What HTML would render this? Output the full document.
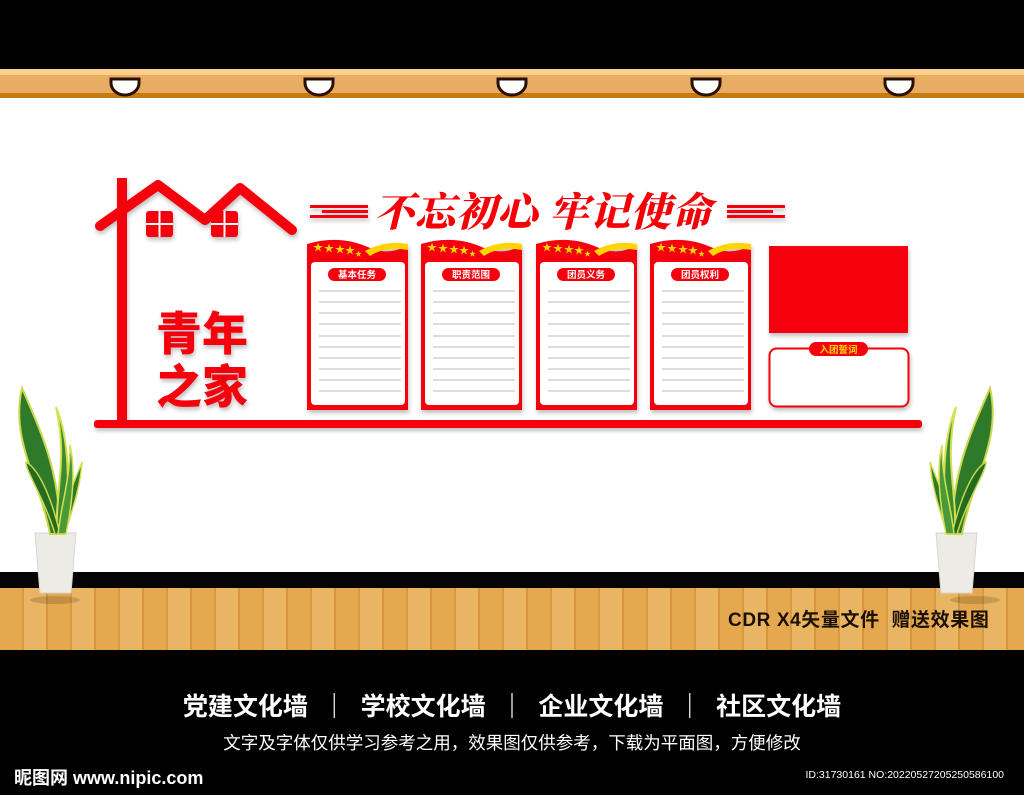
<!DOCTYPE html>
<html><head><meta charset="utf-8"><style>
html,body{margin:0;padding:0;width:1024px;height:795px;overflow:hidden;background:#000;font-family:"Liberation Sans","Noto Sans CJK SC",sans-serif}
.a{position:absolute}
</style></head><body>
<div class="a" style="left:0;top:0;width:1024px;height:795px;background:#000"></div>
<div class="a" style="left:0;top:98px;width:1024px;height:474px;background:#fff"></div>
<div class="a" style="left:0;top:69px;width:1024px;height:29px;background:#e8ad63"></div>
<div class="a" style="left:0;top:69px;width:1024px;height:6px;background:#fcd08c"></div>
<div class="a" style="left:0;top:93px;width:1024px;height:5px;background:#c87a12"></div>
<svg class="a" style="left:0;top:0" width="1024" height="795">
<g fill="#fff" stroke="#2a0e00" stroke-width="3">
<path d="M111,79 h28 v4 a14,12 0 0 1 -28,0z"/>
<path d="M305,79 h28 v4 a14,12 0 0 1 -28,0z"/>
<path d="M498,79 h28 v4 a14,12 0 0 1 -28,0z"/>
<path d="M692,79 h28 v4 a14,12 0 0 1 -28,0z"/>
<path d="M885,79 h28 v4 a14,12 0 0 1 -28,0z"/>
</g>
</svg>
<div class="a" style="left:0;top:572px;width:1024px;height:16px;background:#050505"></div>
<div class="a" style="left:0;top:588px;width:1024px;height:62px;background:repeating-linear-gradient(90deg,#e5a84e 0 22px,#d89a40 22px 24px,#eab562 24px 46px,#d6953a 46px 48px)"></div>
<div class="a" style="left:728px;top:605px;font-size:19px;font-weight:bold;color:#1a1006;letter-spacing:0.6px">CDR X4矢量文件&nbsp; 赠送效果图</div>

<svg class="a" style="left:0;top:0" width="1024" height="795">
<defs><filter id="sh"><feDropShadow dx="1" dy="3" stdDeviation="2" flood-opacity="0.25"/></filter></defs>
<g filter="url(#sh)">
<path d="M100,226 L158,185 L205,220 L240,188 L292,230" fill="none" stroke="#f50007" stroke-width="10" stroke-linecap="round" stroke-linejoin="round"/>
<rect x="117" y="178" width="10" height="247" fill="#f50007"/>
<rect x="94" y="420" width="828" height="8" rx="3" fill="#f50007"/>
<g fill="#f50007">
<rect x="146" y="211" width="27" height="26" rx="3"/><rect x="211" y="211" width="27" height="26" rx="3"/>
</g>
<g stroke="#fff" stroke-width="2"><path d="M159.5,211v26M146,224h27M224.5,211v26M211,224h27"/></g>
<g fill="#f50007">
<rect x="310" y="205" width="58" height="3"/><rect x="322" y="210" width="46" height="3"/><rect x="310" y="215" width="58" height="3"/>
<rect x="727" y="205" width="58" height="3"/><rect x="727" y="210" width="46" height="3"/><rect x="727" y="215" width="58" height="3"/>
</g>
<g id="p">
<path d="M307,244 Q340,234 370,248 Q390,256 408,245 L408,410 L307,410z" fill="#f50007"/>
<path d="M365,251 Q385,240 408,244 L408,250 Q385,246 370,256z" fill="#ffd400"/>
<rect x="311" y="262" width="94" height="143" rx="4" fill="#fff"/>
<rect x="328" y="268" width="58" height="13" rx="6.5" fill="#f50007"/>
<g stroke="#bbb" stroke-width="1"><path d="M319,291h82M319,302h82M319,313h82M319,324h82M319,336h82M319,347h82M319,358h82M319,369h82M319,380h82M319,391h82"/></g>
<g fill="#ffd400" font-size="10"><text x="313" y="251">★</text><text x="324" y="252">★</text><text x="335" y="253">★</text><text x="345" y="254">★</text><text x="355" y="256" font-size="7">★</text></g>
</g>
<use href="#p" x="114"/><use href="#p" x="229"/><use href="#p" x="343"/>
<rect x="769" y="246" width="139" height="87" fill="#f50007"/>
<rect x="769.5" y="348.5" width="139" height="58" rx="7" fill="#fff" stroke="#f50007" stroke-width="2"/>
<rect x="809" y="342" width="59" height="14" rx="7" fill="#f50007"/>
</g>
<g font-size="9.5" font-weight="bold" fill="#fff" text-anchor="middle" font-family="Liberation Sans,Noto Sans CJK SC,sans-serif">
<text x="357" y="278">基本任务</text><text x="471" y="278">职责范围</text><text x="586" y="278">团员义务</text><text x="700" y="278">团员权利</text>
<text x="838.5" y="353" fill="#ffe000">入团誓词</text>
</g>
<g font-family="Noto Serif CJK SC,serif" font-weight="900" fill="#f50007" font-style="italic">
<text x="374" y="226" font-size="40" letter-spacing="1">不忘初心 牢记使命</text>
</g>
<g font-family="Noto Sans CJK SC,sans-serif" font-weight="900" fill="#f50007" font-size="46" filter="url(#sh)">
<text x="156" y="350">青年</text><text x="156" y="403">之家</text>
</g>
<g id="pl">
<path d="M35,533 L76,533 L71,593 L40,593z" fill="#ecebe6" stroke="#d8d6d0"/>
<path d="M50,534 C40,480 10,440 22,388 C40,430 60,470 60,534z" fill="#2f7a2a" stroke="#c8d84a" stroke-width="2"/>
<path d="M57,534 C55,490 68,460 56,407 C70,440 70,490 64,534z" fill="#3a8a32" stroke="#d4e050" stroke-width="2"/>
<path d="M55,534 C45,500 25,470 26,462 C40,470 52,500 60,534z" fill="#246b22" stroke="#c8d84a" stroke-width="1.5"/>
<path d="M60,534 C65,500 75,480 82,462 C80,490 72,510 65,534z" fill="#2f7a2a" stroke="#d4e050" stroke-width="1.5"/>
<path d="M58,534 C62,500 70,480 70,445 C76,470 72,505 66,534z" fill="#4a9a3a" stroke="#d4e050" stroke-width="1.5"/>
</g>
<use href="#pl" transform="translate(1012,0) scale(-1,1)"/>
<ellipse cx="55" cy="600" rx="25" ry="4" fill="#000" opacity="0.15"/>
<ellipse cx="975" cy="600" rx="25" ry="4" fill="#000" opacity="0.15"/>
</svg>

<div class="a" style="left:0;top:687px;width:1024px;text-align:center;color:#fff;font-size:25px;font-weight:bold;white-space:nowrap">党建文化墙&nbsp;&nbsp;｜&nbsp;&nbsp;学校文化墙&nbsp;&nbsp;｜&nbsp;&nbsp;企业文化墙&nbsp;&nbsp;｜&nbsp;&nbsp;社区文化墙</div>
<div class="a" style="left:0;top:730px;width:1024px;text-align:center;color:#fff;font-size:17.5px;white-space:nowrap">文字及字体仅供学习参考之用，效果图仅供参考，下载为平面图，方便修改</div>
<div class="a" style="left:14px;top:764px;color:#fff;font-size:18px;font-weight:bold">昵图网 www.nipic.com</div>
<div class="a" style="right:20px;top:769px;color:#fff;font-size:10.5px">ID:31730161 NO:20220527205250586100</div>
</body></html>
